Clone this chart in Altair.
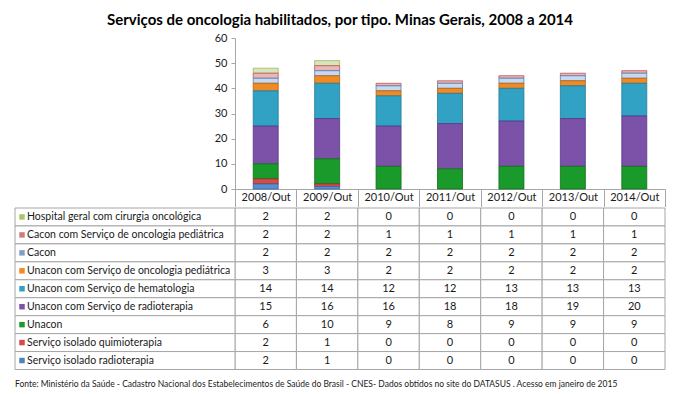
import altair as alt
import pandas as pd

categories = ["2008/Out", "2009/Out", "2010/Out", "2011/Out", "2012/Out", "2013/Out", "2014/Out"]

# Table order (top to bottom)
series = [
    "Hospital geral com cirurgia oncológica",
    "Cacon com Serviço de oncologia pediátrica",
    "Cacon",
    "Unacon com Serviço de oncologia pediátrica",
    "Unacon com Serviço de hematologia",
    "Unacon com Serviço de radioterapia",
    "Unacon",
    "Serviço isolado quimioterapia",
    "Serviço isolado radioterapia",
]

hospital_geral = [2, 2, 0, 0, 0, 0, 0]
cacon_pediatrica = [2, 2, 1, 1, 1, 1, 1]
cacon = [2, 2, 2, 2, 2, 2, 2]
unacon_pediatrica = [3, 3, 2, 2, 2, 2, 2]
unacon_hematologia = [14, 14, 12, 12, 13, 13, 13]
unacon_radioterapia = [15, 16, 16, 18, 18, 19, 20]
unacon = [6, 10, 9, 8, 9, 9, 9]
isolado_quimio = [2, 1, 0, 0, 0, 0, 0]
isolado_radio = [2, 1, 0, 0, 0, 0, 0]

series_values = [hospital_geral, cacon_pediatrica, cacon, unacon_pediatrica,
                 unacon_hematologia, unacon_radioterapia, unacon,
                 isolado_quimio, isolado_radio]

fill_colors = ["#D7E4BD", "#E6B9B8", "#C6D9F1", "#F08A24", "#31A2C4",
               "#7B52A8", "#1A9A2A", "#D64B47", "#5B8DD1"]
stroke_colors = ["#9BBB59", "#C0504D", "#4F81BD", "#B8620E", "#1F7C98",
                 "#553882", "#0F6E1A", "#9E2E2B", "#3565A5"]
swatch_colors = ["#A9C46E", "#CF7D7A", "#7F9FCB", "#F08A24", "#31A2C4",
                 "#7B52A8", "#1A9A2A", "#D64B47", "#4F81BD"]

title_text = "Serviços de oncologia habilitados, por tipo. Minas Gerais, 2008 a 2014"
footer_text = ("Fonte: Ministério da Saúde - Cadastro Nacional dos Estabelecimentos de Saúde do Brasil - "
               "CNES- Dados obtidos no site do DATASUS . Acesso em janeiro de 2015")

rows = []
for si, (s, vals) in enumerate(zip(series, series_values)):
    for c, v in zip(categories, vals):
        rows.append({"series": s, "category": c, "value": v,
                     "stack_order": len(series) - si})
df = pd.DataFrame(rows)
labels_df = pd.DataFrame({"series": series})
footer_df = pd.DataFrame({"t": [footer_text]})

FONT = "Lato"
GRID = "#A6A6A6"
TXT = "#1A1A1A"
W = 430
H_TOP = 151
H_TAB = 161.5

xscale = alt.Scale(domain=categories, paddingInner=0, paddingOuter=0)

bars = alt.Chart(df).transform_filter("datum.value > 0").mark_bar(
    size=25, strokeWidth=0.8
).encode(
    x=alt.X("category:N", sort=categories, scale=xscale,
            axis=alt.Axis(title=None, tickBand="extent", tickSize=17.5,
                          tickColor=GRID, domainColor=GRID, labelAngle=0,
                          labelPadding=-8.75, labelBaseline="middle",
                          labelFont=FONT, labelFontSize=11, labelColor=TXT)),
    y=alt.Y("value:Q", stack="zero", scale=alt.Scale(domain=[0, 60]),
            axis=alt.Axis(title=None, grid=False, values=[0, 10, 20, 30, 40, 50, 60],
                          tickSize=4, tickColor=GRID, domainColor=GRID,
                          labelFont=FONT, labelFontSize=11, labelColor=TXT,
                          labelPadding=4)),
    color=alt.Color("series:N", scale=alt.Scale(domain=series, range=fill_colors), legend=None),
    stroke=alt.Stroke("series:N", scale=alt.Scale(domain=series, range=stroke_colors), legend=None),
    order=alt.Order("stack_order:Q"),
).properties(width=W, height=H_TOP)

yscale = alt.Scale(domain=series, paddingInner=0, paddingOuter=0)

cells = alt.Chart(df).mark_rect(fill="white", stroke=GRID, strokeWidth=1).encode(
    x=alt.X("category:N", sort=categories, scale=xscale, axis=None),
    y=alt.Y("series:N", sort=series, scale=yscale, axis=None),
)
values_text = alt.Chart(df).mark_text(font=FONT, fontSize=11, color=TXT).encode(
    x=alt.X("category:N", sort=categories, scale=xscale, axis=None),
    y=alt.Y("series:N", sort=series, scale=yscale, axis=None),
    text=alt.Text("value:Q"),
)
label_cells = alt.Chart(labels_df).mark_rect(fill="white", stroke=GRID, strokeWidth=1).encode(
    x=alt.value(-220), x2=alt.value(0),
    y=alt.Y("series:N", sort=series, scale=yscale, axis=None),
)
swatches = alt.Chart(labels_df).mark_square(size=30, opacity=1).encode(
    x=alt.value(-213),
    y=alt.Y("series:N", sort=series, scale=yscale, axis=None),
    fill=alt.Fill("series:N", scale=alt.Scale(domain=series, range=swatch_colors), legend=None),
)
label_text = alt.Chart(labels_df).mark_text(align="left", font=FONT, fontSize=10.5, color=TXT).encode(
    x=alt.value(-208),
    y=alt.Y("series:N", sort=series, scale=yscale, axis=None),
    text="series:N",
)
footer = alt.Chart(footer_df).mark_text(align="left", baseline="middle", font=FONT,
                                        fontSize=8.5, color=TXT).encode(
    x=alt.value(-220), y=alt.value(H_TAB + 14), text="t:N",
)

table = alt.layer(cells, values_text, label_cells, swatches, label_text, footer).properties(
    width=W, height=H_TAB
)

chart = alt.vconcat(bars, table, spacing=0).properties(
    title=alt.TitleParams(title_text, font=FONT, fontSize=15, fontWeight="bold",
                          color="#000000", anchor="middle", offset=4),
    padding={"left": 6, "top": 5, "right": 5, "bottom": 5},
).configure_view(stroke=None)

chart.save("out.html", embed_options={"renderer": "svg", "actions": False})
